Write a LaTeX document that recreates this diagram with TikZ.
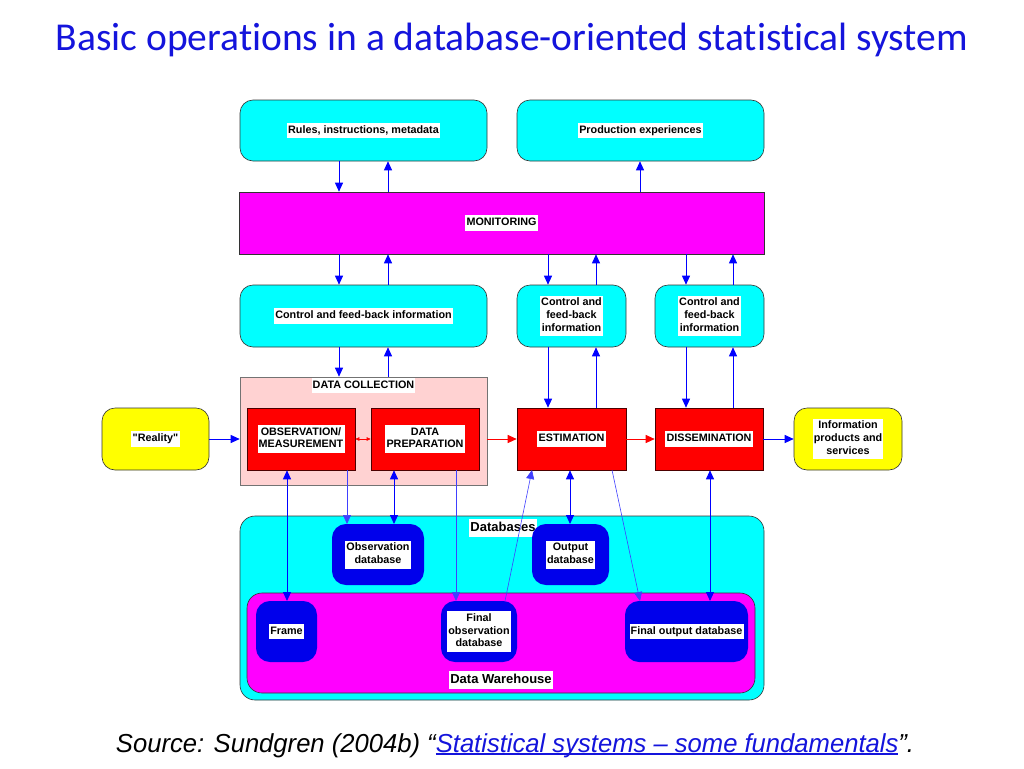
\documentclass[tikz,border=0pt]{standalone}
\usepackage{fontspec}
\setmainfont{Liberation Sans}[Ligatures=TeXOff]
\newfontfamily\titlefont[Ligatures=NoCommon]{Carlito}
\usetikzlibrary{arrows.meta}
\definecolor{cyanbox}{RGB}{0,255,255}
\definecolor{magbox}{RGB}{255,0,255}
\definecolor{redbox}{RGB}{255,0,0}
\definecolor{pinkbox}{RGB}{255,210,210}
\definecolor{yelbox}{RGB}{255,255,0}
\definecolor{dbblue}{RGB}{0,0,235}
\definecolor{arrblue}{RGB}{0,0,255}
\definecolor{titleblue}{RGB}{20,20,220}
\newcommand\wtxt[1]{{\setlength{\fboxsep}{1.2pt}\colorbox{white}{\begin{tabular}{@{}c@{}}#1\end{tabular}}}}
\newsavebox\myulbox
\newcommand\myul[1]{\sbox\myulbox{#1}\rlap{\usebox\myulbox}\rule[-2.6pt]{\wd\myulbox}{1.2pt}}
\tikzset{
  boxfont/.style={font=\fontsize{10.8}{12.8}\selectfont\bfseries},
  base/.style={draw=black!80, line width=0.6pt, inner sep=0pt, align=center, boxfont},
  cbox/.style={base, fill=cyanbox, rounded corners=13pt},
  mbox/.style={base, fill=magbox},
  rbox/.style={base, fill=redbox, draw=black!70!red},
  ybox/.style={base, fill=yelbox, rounded corners=13pt},
  dbbox/.style={base, fill=dbblue, draw=dbblue, line width=2pt, rounded corners=13pt},
  arr/.style={arrblue, line width=0.9pt, -{Triangle[length=9pt,width=8pt]}},
  darr/.style={arrblue, line width=0.9pt, {Triangle[length=9pt,width=8pt]}-{Triangle[length=9pt,width=8pt]}},
  thinarr/.style={arrblue!75, line width=0.6pt, -{Triangle[length=9pt,width=8pt]}},
  rarr/.style={redbox, line width=0.9pt, -{Triangle[length=9pt,width=8pt]}},
  rdarr/.style={redbox, line width=0.6pt, {Triangle[length=4pt,width=3.5pt]}-{Triangle[length=4pt,width=3.5pt]}},
  biglbl/.style={font=\fontsize{13}{15}\selectfont\bfseries, inner sep=0pt},
}
\begin{document}
\begin{tikzpicture}[x=1pt,y=-1pt]
\useasboundingbox[fill=white] (0,0) rectangle (1024,768);
% title
\node[font=\titlefont\fontsize{39.5}{44}\selectfont, text=titleblue, anchor=base] (title) at (512,51) {Basic operations in a database-oriented statistical system};
% column coordinates
\foreach \c in {287,339,347,388,394,456,548,570,596,640,686,710,733}{\coordinate (x\c) at (\c,0);}
% top row
\node[cbox, minimum width=247, minimum height=61] (rules) at (363.5,130.5) {\wtxt{Rules, instructions, metadata}};
\node[cbox, minimum width=247, minimum height=61] (prod) at (640.5,130.5) {\wtxt{Production experiences}};
\node[mbox, minimum width=525, minimum height=62] (mon) at (501.5,223) {\wtxt{MONITORING}};
\node[cbox, minimum width=247, minimum height=62] (ctl1) at (363.5,316) {\wtxt{Control and feed-back information}};
\node[cbox, minimum width=109, minimum height=62] (ctl2) at (571.5,316) {\wtxt{Control and\\feed-back\\information}};
\node[cbox, minimum width=109, minimum height=62] (ctl3) at (709.5,316) {\wtxt{Control and\\feed-back\\information}};
% process row
\node[base, fill=pinkbox, draw=black!55, minimum width=247, minimum height=108] (dc) at (363.5,431) {};
\node[boxfont, inner sep=0pt] (dclbl) at (363.5,385.5) {\wtxt{DATA COLLECTION}};
\node[rbox, minimum width=108, minimum height=62] (obs) at (301,439) {\wtxt{OBSERVATION/\\MEASUREMENT}};
\node[rbox, minimum width=108, minimum height=62] (prep) at (425,439) {\wtxt{DATA\\PREPARATION}};
\node[rbox, minimum width=109, minimum height=62] (est) at (571.5,439) {\wtxt{ESTIMATION}};
\node[rbox, minimum width=108, minimum height=62] (dis) at (709,439) {\wtxt{DISSEMINATION}};
\node[ybox, minimum width=107, minimum height=62] (real) at (155.5,439) {\wtxt{"Reality"}};
\node[ybox, minimum width=108, minimum height=62] (info) at (848,439) {\wtxt{Information\\products and\\services}};
% databases
\node[cbox, minimum width=524, minimum height=184, rounded corners=15pt] (dbs) at (502,608) {};
\node[mbox, minimum width=508, minimum height=100, rounded corners=15pt] (dw) at (501,643) {};
\node[biglbl] (dbslbl) at (503,528) {\wtxt{Databases}};
\node[biglbl] (dwlbl) at (501,680) {\wtxt{Data Warehouse}};
\node[dbbox, minimum width=90, minimum height=59] (obsdb) at (378,554.5) {\wtxt{Observation\\database}};
\node[dbbox, minimum width=75, minimum height=59] (outdb) at (570.5,554.5) {\wtxt{Output\\database}};
\node[dbbox, minimum width=59, minimum height=59] (frame) at (286.5,631.5) {\wtxt{Frame}};
\node[dbbox, minimum width=74, minimum height=59] (fobsdb) at (479,631.5) {\wtxt{Final\\observation\\database}};
\node[dbbox, minimum width=121, minimum height=59] (foutdb) at (686.5,631.5) {\wtxt{Final output database}};
% arrows top
\draw[arr] (rules.south -| x339) -- (mon.north -| x339);
\draw[arr] (mon.north -| x388) -- (rules.south -| x388);
\draw[arr] (mon.north -| x640) -- (prod.south -| x640);
\draw[arr] (mon.south -| x339) -- (ctl1.north -| x339);
\draw[arr] (ctl1.north -| x388) -- (mon.south -| x388);
\draw[arr] (mon.south -| x548) -- (ctl2.north -| x548);
\draw[arr] (ctl2.north -| x596) -- (mon.south -| x596);
\draw[arr] (mon.south -| x686) -- (ctl3.north -| x686);
\draw[arr] (ctl3.north -| x733) -- (mon.south -| x733);
\draw[arr] (ctl1.south -| x339) -- (dc.north -| x339);
\draw[arr] (dc.north -| x388) -- (ctl1.south -| x388);
\draw[arr] (ctl2.south -| x548) -- (est.north -| x548);
\draw[arr] (est.north -| x596) -- (ctl2.south -| x596);
\draw[arr] (ctl3.south -| x686) -- (dis.north -| x686);
\draw[arr] (dis.north -| x733) -- (ctl3.south -| x733);
% horizontal flow
\draw[arr] (real.east) -- (dc.west |- real.east);
\draw[rdarr] (obs.east) -- (prep.west);
\draw[rarr] (dc.east |- est.west) -- (est.west);
\draw[rarr] (est.east) -- (dis.west);
\draw[arr] (dis.east) -- (info.west);
% database arrows
\draw[darr] (obs.south -| x287) -- (frame.north -| x287);
\draw[thinarr] (obs.south -| x347) -- (obsdb.north -| x347);
\draw[darr] (prep.south -| x394) -- (obsdb.north -| x394);
\draw[thinarr] (prep.south -| x456) -- (fobsdb.north -| x456);
\coordinate (fo1) at (505,601);
\coordinate (es1) at (532,470);
\draw[thinarr] (fo1) -- (es1);
\draw[darr] (est.south -| x570) -- (outdb.north -| x570);
\coordinate (es2) at (612,470);
\coordinate (fo2) at (640,601);
\draw[thinarr] (es2) -- (fo2);
\draw[darr] (dis.south -| x710) -- (foutdb.north -| x710);
% source
\node[anchor=base, inner sep=0pt] (src) at (515,752) {\scalebox{0.985}[1]{\fontsize{26}{29}\selectfont\itshape Source: Sundgren (2004b) \textquotedblleft{\color{titleblue}\myul{Statistical systems \textendash\ some fundamentals}}\textquotedblright.}};
\end{tikzpicture}
\end{document}
